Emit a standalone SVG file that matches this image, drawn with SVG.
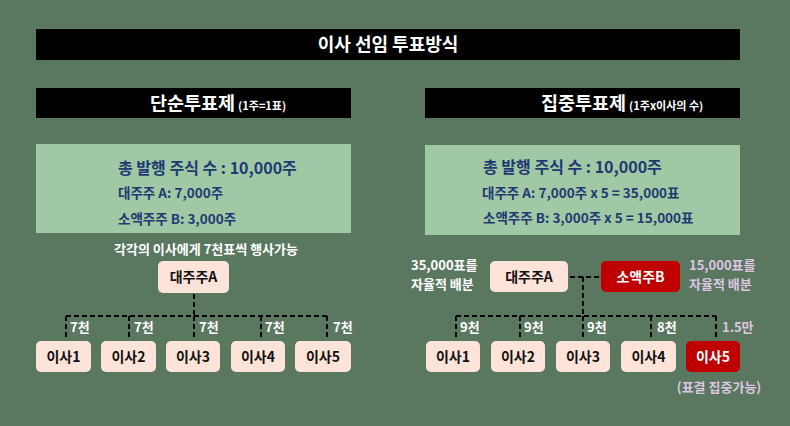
<svg xmlns="http://www.w3.org/2000/svg" width="790" height="426" viewBox="0 0 790 426">
<style>
text{font-family:"Noto Sans CJK KR","Noto Sans",sans-serif;font-weight:bold}
.bar{fill:#000}
.wt{fill:#fff}
.box{fill:#a0c8a4}
.nv{fill:#1d3a72}
.node{fill:#fde3d8}
.red{fill:#c00000}
.nt{fill:#111;font-size:14px}
.lp{fill:#dcc6e2}
.dash{fill:none;stroke:#000;stroke-width:2;stroke-dasharray:5 3}
.lab{fill:#fff;font-size:13px}
</style>
<rect width="790" height="426" fill="#5a775f"/>
<g id="title">
<rect class="bar" x="36" y="29" width="704" height="31"/>
<text class="wt" x="388" y="51" font-size="18" text-anchor="middle">이사 선임 투표방식</text>
</g>
<g id="header-simple">
<rect class="bar" x="36" y="88" width="315" height="30"/>
<text class="wt" x="150" y="109.5" font-size="18.5">단순투표제<tspan font-size="11" dx="3">(1주=1표)</tspan></text>
</g>
<g id="header-cumulative">
<rect class="bar" x="425" y="88" width="315" height="30"/>
<text class="wt" x="541" y="109.5" font-size="18.5">집중투표제<tspan font-size="11" dx="3">(1주x이사의 수)</tspan></text>
</g>
<g id="info-simple">
<rect class="box" x="36" y="144" width="315" height="89"/>
<text class="nv" x="118" y="174" font-size="16">총 발행 주식 수 : 10,000주</text>
<text class="nv" x="118" y="198" font-size="13.5">대주주 A: 7,000주</text>
<text class="nv" x="118" y="224" font-size="13.5">소액주주 B: 3,000주</text>
</g>
<g id="info-cumulative">
<rect class="box" x="425" y="145" width="315" height="90"/>
<text class="nv" x="483" y="173" font-size="16">총 발행 주식 수 : 10,000주</text>
<text class="nv" x="482" y="198" font-size="13.5">대주주 A: 7,000주 x 5 = 35,000표</text>
<text class="nv" x="483" y="223" font-size="13.5">소액주주 B: 3,000주 x 5 = 15,000표</text>
</g>
<g id="connectors">
<path class="dash" d="M194 294V316M66 316H327M66 316V340M129 316V340M194 316V340M261 316V340M327 316V340"/>
<path class="dash" d="M570 277H601M583 277V316M456 316H716M456 316V340M520 316V340M583 316V340M651 316V340M716 316V340"/>
</g>
<g id="note-simple">
<text class="wt" x="206" y="254" font-size="13" text-anchor="middle">각각의 이사에게 7천표씩 행사가능</text>
</g>
<g id="simple-A">
<rect class="node" x="158" y="261" width="71" height="32" rx="5"/>
<text class="nt" x="193.5" y="282" text-anchor="middle">대주주A</text>
</g>
<g id="simple-d1"><rect class="node" x="36" y="341" width="55" height="31" rx="5"/><text class="nt" x="63.5" y="361.5" text-anchor="middle">이사1</text></g>
<g id="simple-d2"><rect class="node" x="101" y="341" width="55" height="31" rx="5"/><text class="nt" x="128.5" y="361.5" text-anchor="middle">이사2</text></g>
<g id="simple-d3"><rect class="node" x="166" y="341" width="54" height="31" rx="5"/><text class="nt" x="193" y="361.5" text-anchor="middle">이사3</text></g>
<g id="simple-d4"><rect class="node" x="231" y="341" width="54" height="31" rx="5"/><text class="nt" x="258" y="361.5" text-anchor="middle">이사4</text></g>
<g id="simple-d5"><rect class="node" x="295" y="341" width="56" height="31" rx="5"/><text class="nt" x="323" y="361.5" text-anchor="middle">이사5</text></g>
<g id="simple-labels">
<text class="lab" x="70" y="332">7천</text>
<text class="lab" x="134" y="332">7천</text>
<text class="lab" x="199" y="332">7천</text>
<text class="lab" x="265" y="332">7천</text>
<text class="lab" x="333" y="332">7천</text>
</g>
<g id="cum-A">
<rect class="node" x="490" y="261" width="78" height="31" rx="5"/>
<text class="nt" x="529" y="281.5" text-anchor="middle">대주주A</text>
<text class="wt" x="411" y="270" font-size="13">35,000표를</text>
<text class="wt" x="411" y="288.5" font-size="13">자율적 배분</text>
</g>
<g id="cum-B">
<rect class="red" x="601" y="261" width="79" height="31" rx="5"/>
<text class="nt" x="640.5" y="281.5" text-anchor="middle" style="fill:#fff">소액주B</text>
<text class="lp" x="689" y="270" font-size="13">15,000표를</text>
<text class="lp" x="689" y="288.5" font-size="13">자율적 배분</text>
</g>
<g id="cum-d1"><rect class="node" x="426" y="341" width="54" height="31" rx="5"/><text class="nt" x="453" y="361.5" text-anchor="middle">이사1</text></g>
<g id="cum-d2"><rect class="node" x="491" y="341" width="54" height="31" rx="5"/><text class="nt" x="518" y="361.5" text-anchor="middle">이사2</text></g>
<g id="cum-d3"><rect class="node" x="556" y="341" width="54" height="31" rx="5"/><text class="nt" x="583" y="361.5" text-anchor="middle">이사3</text></g>
<g id="cum-d4"><rect class="node" x="621" y="341" width="55" height="31" rx="5"/><text class="nt" x="648.5" y="361.5" text-anchor="middle">이사4</text></g>
<g id="cum-d5"><rect class="red" x="686" y="341" width="54" height="31" rx="5"/><text class="nt" x="713" y="361.5" text-anchor="middle" style="fill:#fff">이사5</text>
<text class="lp" x="719" y="392" font-size="13" text-anchor="middle">(표결 집중가능)</text></g>
<g id="cum-labels">
<text class="lab" x="460" y="332">9천</text>
<text class="lab" x="524" y="332">9천</text>
<text class="lab" x="587" y="332">9천</text>
<text class="lab" x="657" y="332">8천</text>
<text class="lab" x="722" y="332" style="fill:#dcc6e2">1.5만</text>
</g>
</svg>
